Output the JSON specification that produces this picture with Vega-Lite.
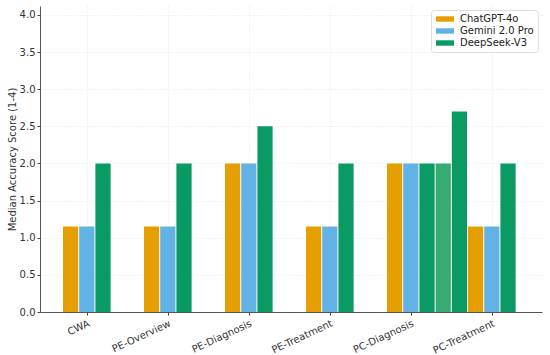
{
  "$schema": "https://vega.github.io/schema/vega-lite/v6.json",
  "width": 502,
  "height": 306,
  "autosize": "none",
  "padding": {"left": 40, "top": 6, "right": 8, "bottom": 43},
  "background": "white",
  "config": {
    "font": "DejaVu Sans",
    "view": {"stroke": null},
    "axis": {"labelFont": "DejaVu Sans", "titleFont": "DejaVu Sans", "labelColor": "#333", "titleColor": "#333", "domainColor": "#444", "tickColor": "#444"}
  },
  "data": {
    "values": [
      {"task": "CWA", "model": "ChatGPT-4o", "score": 1.15},
      {"task": "CWA", "model": "Gemini 2.0 Pro", "score": 1.15},
      {"task": "CWA", "model": "DeepSeek-V3", "score": 2.0},
      {"task": "PE-Overview", "model": "ChatGPT-4o", "score": 1.15},
      {"task": "PE-Overview", "model": "Gemini 2.0 Pro", "score": 1.15},
      {"task": "PE-Overview", "model": "DeepSeek-V3", "score": 2.0},
      {"task": "PE-Diagnosis", "model": "ChatGPT-4o", "score": 2.0},
      {"task": "PE-Diagnosis", "model": "Gemini 2.0 Pro", "score": 2.0},
      {"task": "PE-Diagnosis", "model": "DeepSeek-V3", "score": 2.5},
      {"task": "PE-Treatment", "model": "ChatGPT-4o", "score": 1.15},
      {"task": "PE-Treatment", "model": "Gemini 2.0 Pro", "score": 1.15},
      {"task": "PE-Treatment", "model": "DeepSeek-V3", "score": 2.0},
      {"task": "PC-Diagnosis", "model": "ChatGPT-4o", "score": 2.0},
      {"task": "PC-Diagnosis", "model": "Gemini 2.0 Pro", "score": 2.0},
      {"task": "PC-Diagnosis", "model": "DeepSeek-V3", "score": 2.0},
      {"task": "PC-Diagnosis", "model": "DeepSeek-V3 b", "score": 2.0},
      {"task": "PC-Diagnosis", "model": "DeepSeek-V3 c", "score": 2.7},
      {"task": "PC-Treatment", "model": "ChatGPT-4o", "score": 1.15},
      {"task": "PC-Treatment", "model": "Gemini 2.0 Pro", "score": 1.15},
      {"task": "PC-Treatment", "model": "DeepSeek-V3", "score": 2.0}
    ]
  },
  "mark": {"type": "bar"},
  "encoding": {
    "x": {
      "field": "task",
      "type": "nominal",
      "sort": null,
      "scale": {"paddingInner": 0.407, "paddingOuter": 0.302, "align": 0.47},
      "axis": {
        "title": null,
        "labelAngle": -25,
        "labelAlign": "right",
        "labelBaseline": "top",
        "labelFontSize": 10,
        "labelPadding": 3,
        "tickSize": 3,
        "bandPosition": 0.5,
        "grid": true,
        "gridColor": "#e6e6e6",
        "gridDash": [1, 2],
        "domainColor": "#555"
      }
    },
    "xOffset": {
      "field": "model",
      "type": "nominal",
      "scale": {
        "domain": ["ChatGPT-4o", "Gemini 2.0 Pro", "DeepSeek-V3", "DeepSeek-V3 b", "DeepSeek-V3 c"],
        "range": [0, 80],
        "paddingInner": 0.06,
        "paddingOuter": 0
      }
    },
    "y": {
      "field": "score",
      "type": "quantitative",
      "scale": {"domain": [0, 4.12], "nice": false},
      "axis": {
        "title": "Median Accuracy Score (1-4)",
        "titleFontSize": 10,
        "titleFontWeight": "normal",
        "titlePadding": 2,
        "values": [0, 0.5, 1, 1.5, 2, 2.5, 3, 3.5, 4],
        "format": ".1f",
        "labelFontSize": 10,
        "tickSize": 3,
        "gridColor": "#e6e6e6",
        "gridDash": [1, 2],
        "domainColor": "#555"
      }
    },
    "color": {
      "field": "model",
      "type": "nominal",
      "scale": {
        "domain": ["ChatGPT-4o", "Gemini 2.0 Pro", "DeepSeek-V3", "DeepSeek-V3 b", "DeepSeek-V3 c"],
        "range": ["#E69F00", "#62B2E6", "#0A9A63", "#36AB72", "#0A9A63"]
      },
      "legend": {
        "title": null,
        "values": ["ChatGPT-4o", "Gemini 2.0 Pro", "DeepSeek-V3"],
        "orient": "top-right",
        "offset": 4,
        "padding": 4,
        "fillColor": "white",
        "strokeColor": "#dddddd",
        "cornerRadius": 3,
        "labelFontSize": 10,
        "labelColor": "#222",
        "symbolType": "M-2,-0.6H2V0.6H-2Z",
        "symbolSize": 81,
        "symbolStrokeWidth": 0,
        "symbolOffset": 5,
        "rowPadding": 2,
        "labelOffset": 10
      }
    }
  }
}
